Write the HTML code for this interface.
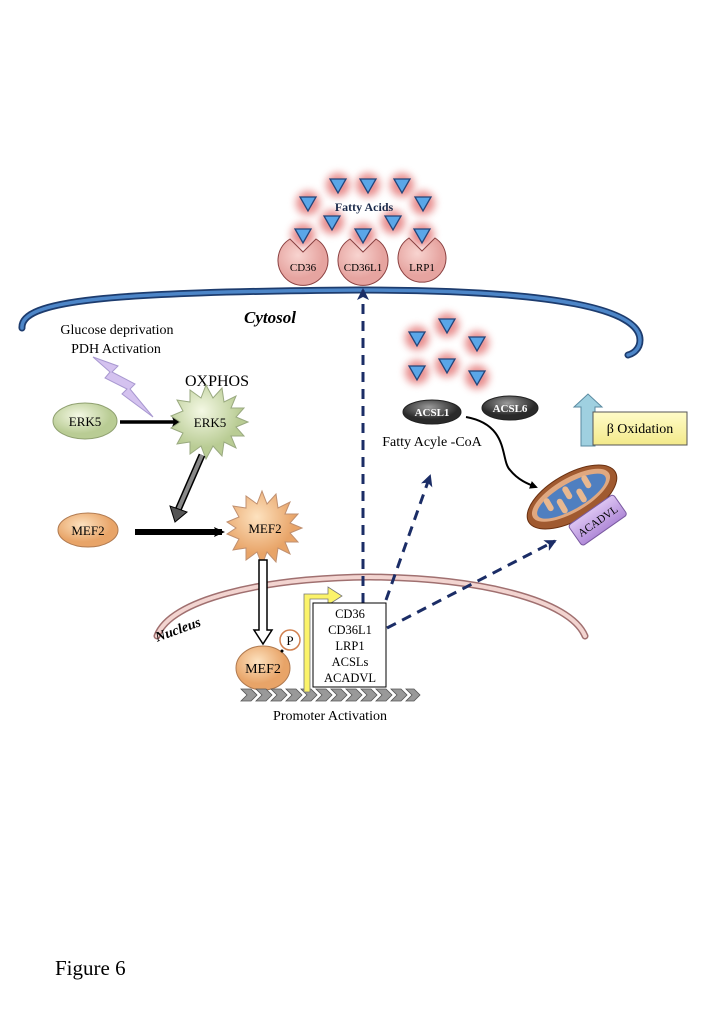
<!DOCTYPE html>
<html><head><meta charset="utf-8"><style>
html,body{margin:0;padding:0;background:#fff;}
svg{display:block;}
text{font-family:"Liberation Serif",serif;}
</style></head><body>
<svg width="709" height="1024" viewBox="0 0 709 1024" xmlns="http://www.w3.org/2000/svg">
<defs>
<filter id="glow" x="-1" y="-1" width="3" height="3"><feGaussianBlur stdDeviation="4"/></filter>
<radialGradient id="gGreen" cx="0.4" cy="0.35"><stop offset="0" stop-color="#f4f8e4"/><stop offset="1" stop-color="#b9cc94"/></radialGradient>
<radialGradient id="gOrange" cx="0.4" cy="0.35"><stop offset="0" stop-color="#fde2bf"/><stop offset="1" stop-color="#e8a468"/></radialGradient>
<radialGradient id="gPink" cx="0.4" cy="0.35"><stop offset="0" stop-color="#f8d4d0"/><stop offset="1" stop-color="#e6a4a0"/></radialGradient>
<radialGradient id="gGray" cx="0.45" cy="0.3"><stop offset="0" stop-color="#9a9a9a"/><stop offset="1" stop-color="#2a2a2a"/></radialGradient>
<linearGradient id="gYel" x1="0" y1="0" x2="0" y2="1"><stop offset="0" stop-color="#fffcc8"/><stop offset="1" stop-color="#f3e98a"/></linearGradient>
<linearGradient id="gPur" x1="0" y1="0" x2="0" y2="1"><stop offset="0" stop-color="#dcc4f2"/><stop offset="1" stop-color="#b08ad8"/></linearGradient>
<marker id="ah" markerWidth="8" markerHeight="8" refX="6" refY="4" orient="auto" markerUnits="userSpaceOnUse"><path d="M0,0 L8,4 L0,8 z" fill="#000"/></marker>
<marker id="ahd" markerWidth="14" markerHeight="12" refX="10" refY="6" orient="auto" markerUnits="userSpaceOnUse"><path d="M0,0 L12,6 L0,12 L3,6 z" fill="#1b2d66"/></marker>
<marker id="ahb" markerWidth="12" markerHeight="12" refX="8" refY="6" orient="auto" markerUnits="userSpaceOnUse"><path d="M0,1 L11,6 L0,11 L2,6 z" fill="#000"/></marker>
<g id="tri"><circle r="12" fill="#e47a7a" filter="url(#glow)" opacity="0.85"/><path d="M-8,-6 L8,-6 L0,8 z" fill="#5aa6e8" stroke="#23457a" stroke-width="1.3"/></g>
</defs>

<!-- cytosol membrane -->
<path d="M22,328 C20,300 110,292 360,290 C560,290 640,310 640,340 C640,350 632,354 628,355" fill="none" stroke="#1d3c6e" stroke-width="7" stroke-linecap="round"/>
<path d="M22,328 C20,300 110,292 360,290 C560,290 640,310 640,340 C640,350 632,354 628,355" fill="none" stroke="#4d86c8" stroke-width="3.5" stroke-linecap="round"/>

<!-- nucleus membrane -->
<path d="M157,636 C170,600 260,578 370,577 C480,578 570,600 585,636" fill="none" stroke="#a07070" stroke-width="7" stroke-linecap="round"/>
<path d="M157,636 C170,600 260,578 370,577 C480,578 570,600 585,636" fill="none" stroke="#f2d4d0" stroke-width="4" stroke-linecap="round"/>

<!-- fatty acids -->
<use href="#tri" transform="translate(338,185)"/>
<use href="#tri" transform="translate(368,185)"/>
<use href="#tri" transform="translate(402,185)"/>
<use href="#tri" transform="translate(308,203)"/>
<use href="#tri" transform="translate(423,203)"/>
<use href="#tri" transform="translate(332,222)"/>
<use href="#tri" transform="translate(393,222)"/>
<use href="#tri" transform="translate(303,235)"/>
<use href="#tri" transform="translate(363,235)"/>
<use href="#tri" transform="translate(422,235)"/>
<text x="364" y="211" font-size="12" font-weight="bold" fill="#1b2a4a" text-anchor="middle">Fatty Acids</text>

<!-- receptors -->
<g stroke="#8a4040" stroke-width="1" fill="url(#gPink)">
<path d="M290,239 A25,25 0 1 0 316,239 L303,252 z"/>
<path d="M350,239 A25,25 0 1 0 376,239 L363,252 z"/>
<path d="M409,238 A24,24 0 1 0 435,238 L422,251 z"/>
</g>
<text x="303" y="271" font-size="11" text-anchor="middle">CD36</text>
<text x="363" y="271" font-size="11" text-anchor="middle">CD36L1</text>
<text x="422" y="271" font-size="11" text-anchor="middle">LRP1</text>

<text x="270" y="323" font-size="17" font-weight="bold" font-style="italic" text-anchor="middle">Cytosol</text>
<text x="117" y="334" font-size="14" text-anchor="middle">Glucose deprivation</text>
<text x="116" y="353" font-size="14" text-anchor="middle">PDH Activation</text>
<path d="M93,357 L118,366 L112,372 L135,384 L130,389 L153,417 L122,394 L127,389 L105,378 L110,372 z" fill="#d4c2ef" stroke="#a898d0" stroke-width="1"/>
<text x="217" y="386" font-size="16" text-anchor="middle">OXPHOS</text>

<!-- ERK5 -->
<ellipse cx="85" cy="421" rx="32" ry="18" fill="url(#gGreen)" stroke="#8fa070"/>
<text x="85" y="426" font-size="13" text-anchor="middle">ERK5</text>
<line x1="120" y1="422" x2="180" y2="422" stroke="#000" stroke-width="3.5" marker-end="url(#ahb)"/>
<polygon points="248,422 236,427 244,436 231,436 236,448 224,442 222,456 213,446 206,459 201,446 190,454 190,442 177,444 183,433 171,428 180,422 171,416 183,411 177,400 190,402 190,390 201,398 206,385 213,398 222,388 224,402 236,396 231,408 244,408 236,417" fill="url(#gGreen)" stroke="#9aaa80"/>
<text x="210" y="427" font-size="13" text-anchor="middle">ERK5</text>

<!-- gray arrow -->
<path d="M202,455 L178,510" stroke="#000" stroke-width="7"/>
<path d="M202,455 L178,510" stroke="#888" stroke-width="4"/>
<path d="M170,506 L175,522 L187,512 z" fill="#555" stroke="#000"/>

<!-- MEF2 -->
<ellipse cx="88" cy="530" rx="30" ry="17" fill="url(#gOrange)" stroke="#b07a50"/>
<text x="88" y="535" font-size="13" text-anchor="middle">MEF2</text>
<line x1="135" y1="532" x2="222" y2="532" stroke="#000" stroke-width="6" marker-end="url(#ahb)"/>
<polygon points="302,528 290,533 298,542 285,542 290,554 278,548 276,562 267,552 262,565 257,552 246,560 246,548 233,550 239,539 227,534 236,528 227,522 239,517 233,506 246,508 246,496 257,504 262,491 267,504 276,494 278,508 290,502 285,514 298,514 290,523" fill="url(#gOrange)" stroke="#c09070"/>
<text x="265" y="533" font-size="13" text-anchor="middle">MEF2</text>

<!-- hollow down arrow -->
<path d="M259,560 L259,630 L254,630 L263,644 L272,630 L267,630 L267,560 z" fill="#fff" stroke="#000" stroke-width="1.5"/>

<text x="178" y="634" font-size="14" font-weight="bold" font-style="italic" text-anchor="middle" transform="rotate(-20 178 630)">Nucleus</text>

<!-- MEF2 in nucleus -->
<ellipse cx="263" cy="668" rx="27" ry="22" fill="url(#gOrange)" stroke="#b07a50"/>
<text x="263" y="673" font-size="14" text-anchor="middle">MEF2</text>
<circle cx="290" cy="640" r="10" fill="#fff" stroke="#d08050" stroke-width="1.5"/>
<text x="290" y="645" font-size="13" text-anchor="middle">P</text>
<circle cx="282" cy="651" r="1.5" fill="#000"/>

<!-- promoter chevrons -->
<g fill="#999" stroke="#555" stroke-width="0.8">
<path d="M241,689 L251,689 L257,695 L251,701 L241,701 L247,695 z"/>
<path d="M256,689 L266,689 L272,695 L266,701 L256,701 L262,695 z"/>
<path d="M271,689 L281,689 L287,695 L281,701 L271,701 L277,695 z"/>
<path d="M286,689 L296,689 L302,695 L296,701 L286,701 L292,695 z"/>
<path d="M301,689 L311,689 L317,695 L311,701 L301,701 L307,695 z"/>
<path d="M316,689 L326,689 L332,695 L326,701 L316,701 L322,695 z"/>
<path d="M331,689 L341,689 L347,695 L341,701 L331,701 L337,695 z"/>
<path d="M346,689 L356,689 L362,695 L356,701 L346,701 L352,695 z"/>
<path d="M361,689 L371,689 L377,695 L371,701 L361,701 L367,695 z"/>
<path d="M376,689 L386,689 L392,695 L386,701 L376,701 L382,695 z"/>
<path d="M391,689 L401,689 L407,695 L401,701 L391,701 L397,695 z"/>
<path d="M406,689 L414,689 L420,695 L414,701 L406,701 L412,695 z"/>
</g>
<text x="330" y="720" font-size="14" text-anchor="middle">Promoter Activation</text>

<!-- yellow bent arrow -->
<path d="M304,692 L304,594 L328,594 L328,587 L342,596 L328,605 L328,599 L310,599 L310,692 z" fill="#fbf36a" stroke="#777" stroke-width="0.8"/>

<!-- dashed arrows -->
<g stroke="#1b2d66" stroke-width="3" stroke-dasharray="10,7" fill="none">
<line x1="363" y1="603" x2="363" y2="290" marker-end="url(#ahd)"/>
<line x1="386" y1="600" x2="430" y2="476" marker-end="url(#ahd)"/>
<line x1="387" y1="628" x2="555" y2="541" marker-end="url(#ahd)"/>
</g>

<!-- gene box -->
<rect x="313" y="603" width="73" height="84" fill="#fff" stroke="#000" stroke-width="1"/>
<g font-size="12.5" text-anchor="middle">
<text x="350" y="618">CD36</text>
<text x="350" y="634">CD36L1</text>
<text x="350" y="650">LRP1</text>
<text x="350" y="666">ACSLs</text>
<text x="350" y="682">ACADVL</text>
</g>

<!-- ACSL fatty acids -->
<use href="#tri" transform="translate(417,338)"/>
<use href="#tri" transform="translate(447,325)"/>
<use href="#tri" transform="translate(477,343)"/>
<use href="#tri" transform="translate(417,372)"/>
<use href="#tri" transform="translate(447,365)"/>
<use href="#tri" transform="translate(477,377)"/>

<ellipse cx="432" cy="412" rx="29" ry="12" fill="url(#gGray)" stroke="#222"/>
<text x="432" y="416" font-size="11" font-weight="bold" fill="#fff" text-anchor="middle">ACSL1</text>
<ellipse cx="510" cy="408" rx="28" ry="12" fill="url(#gGray)" stroke="#222"/>
<text x="510" y="412" font-size="11" font-weight="bold" fill="#fff" text-anchor="middle">ACSL6</text>
<text x="432" y="446" font-size="14" text-anchor="middle">Fatty Acyle -CoA</text>
<path d="M466,417 C510,425 500,460 510,470 C518,480 528,484 536,487" fill="none" stroke="#000" stroke-width="2" marker-end="url(#ah)"/>

<!-- mitochondrion -->
<g transform="rotate(-30 572 497)">
<ellipse cx="572" cy="497" rx="50" ry="23" fill="#a05a30" stroke="#6a3010"/>
<ellipse cx="572" cy="495" rx="44" ry="17" fill="#e0a880"/>
<ellipse cx="572" cy="496" rx="39" ry="13" fill="#4f7fc0"/>
<g fill="#e8b890">
<rect x="545" y="485" width="6" height="14" rx="3"/>
<rect x="556" y="492" width="6" height="16" rx="3"/>
<rect x="567" y="484" width="6" height="14" rx="3"/>
<rect x="578" y="493" width="6" height="15" rx="3"/>
<rect x="589" y="484" width="6" height="14" rx="3"/>
</g>
</g>
<g transform="rotate(-35 597 520)">
<rect x="570" y="508" width="55" height="25" rx="3" fill="url(#gPur)" stroke="#7a5aa0"/>
<text x="597" y="525" font-size="11" text-anchor="middle">ACADVL</text>
</g>

<!-- beta oxidation -->
<path d="M581,446 L581,407 L574,407 L588,394 L602,407 L595,407 L595,446 z" fill="#9fd0e0" stroke="#5a8aa0"/>
<rect x="593" y="412" width="94" height="33" fill="url(#gYel)" stroke="#555"/>
<text x="640" y="433" font-size="14" text-anchor="middle">β Oxidation</text>

<text x="55" y="975" font-size="21">Figure 6</text>
</svg>
</body></html>
